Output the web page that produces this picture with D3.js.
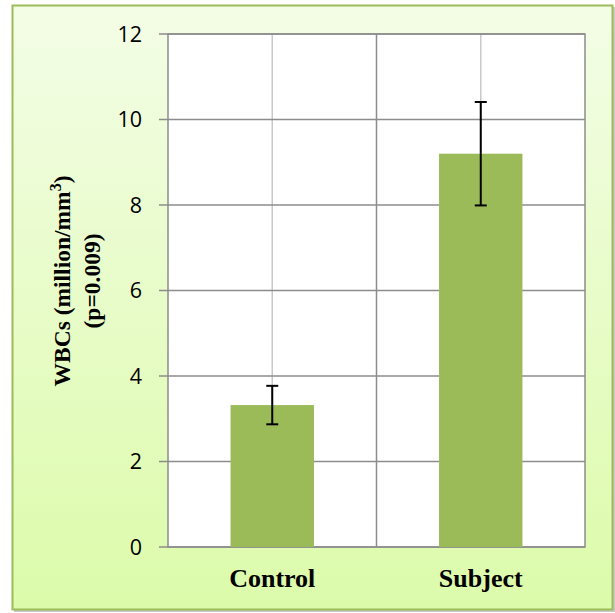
<!DOCTYPE html>
<html>
<head>
<meta charset="utf-8">
<script src="https://cdn.jsdelivr.net/npm/d3@7"></script>
<style>
  body { margin: 0; background: #fff; }
</style>
</head>
<body>
<svg width="615" height="613"></svg>
<script>
var groups = ["Control", "Subject"];
var means = [3.32, 9.2];
var errs = [0.45, 1.21];
var yTicks = [0, 2, 4, 6, 8, 10, 12];

var svg = d3.select("svg");

var defs = svg.append("defs");
var grad = defs.append("linearGradient")
  .attr("id", "bg")
  .attr("x1", 0).attr("y1", 0).attr("x2", 0).attr("y2", 1);
grad.append("stop").attr("offset", "0%").attr("stop-color", "#f3fde6");
grad.append("stop").attr("offset", "100%").attr("stop-color", "#dcfbaa");

// drop shadow line + frame
svg.append("rect")
  .attr("x", 14).attr("y", 7).attr("width", 601).attr("height", 605)
  .attr("fill", "#c8c8c8");
svg.append("rect")
  .attr("x", 12.5).attr("y", 5.5).attr("width", 600).attr("height", 604)
  .attr("fill", "url(#bg)")
  .attr("stroke", "#9bbb59").attr("stroke-width", 2);

var pLeft = 168, pRight = 585, pTop = 34, pBottom = 547;

var x = d3.scaleBand().domain(groups).range([pLeft, pRight]).paddingInner(0).paddingOuter(0);
var y = d3.scaleLinear().domain([0, 12]).range([pBottom, pTop]);

// plot area
svg.append("rect")
  .attr("x", pLeft).attr("y", pTop)
  .attr("width", pRight - pLeft).attr("height", pBottom - pTop)
  .attr("fill", "#fff");

// light vertical gridlines at category centres
svg.append("g").selectAll("line")
  .data(groups)
  .enter()
  .append("line")
  .attr("x1", function (d) { return x(d) + x.bandwidth() / 2; })
  .attr("x2", function (d) { return x(d) + x.bandwidth() / 2; })
  .attr("y1", pTop).attr("y2", pBottom)
  .attr("stroke", "#c8c8c8").attr("stroke-width", 1.5);

// category boundary line
svg.append("line")
  .attr("x1", x("Subject")).attr("x2", x("Subject"))
  .attr("y1", pTop).attr("y2", pBottom)
  .attr("stroke", "#8c8c8c").attr("stroke-width", 1.5);

// horizontal gridlines
svg.append("g").selectAll("line")
  .data(yTicks)
  .enter()
  .append("line")
  .attr("x1", pLeft - 9).attr("x2", pRight)
  .attr("y1", function (d) { return y(d); })
  .attr("y2", function (d) { return y(d); })
  .attr("stroke", "#8c8c8c").attr("stroke-width", 1.5);

// plot border
svg.append("rect")
  .attr("x", pLeft).attr("y", pTop)
  .attr("width", pRight - pLeft).attr("height", pBottom - pTop)
  .attr("fill", "none")
  .attr("stroke", "#8c8c8c").attr("stroke-width", 1.5);

// y tick labels
svg.append("g").selectAll("text")
  .data(yTicks)
  .enter()
  .append("text")
  .attr("x", 142)
  .attr("y", function (d) { return y(d); })
  .attr("dy", "0.36em")
  .attr("text-anchor", "end")
  .attr("font-family", "Open Sans, sans-serif")
  .attr("font-size", 21.5)
  .attr("fill", "#000")
  .text(function (d) { return d; });

// bars
var barW = x.bandwidth() * 0.4;
svg.append("g").selectAll("rect")
  .data(groups)
  .enter()
  .append("rect")
  .attr("x", function (d) { return x(d) + (x.bandwidth() - barW) / 2; })
  .attr("y", function (d, i) { return y(means[i]); })
  .attr("width", barW)
  .attr("height", function (d, i) { return pBottom - y(means[i]); })
  .attr("fill", "#9bbb59");

// error bars
var eb = svg.append("g").attr("stroke", "#000").attr("stroke-width", 2);
groups.forEach(function (d, i) {
  var cx = x(d) + x.bandwidth() / 2;
  var hi = y(means[i] + errs[i]), lo = y(means[i] - errs[i]);
  eb.append("line").attr("x1", cx).attr("x2", cx).attr("y1", hi).attr("y2", lo);
  eb.append("line").attr("x1", cx - 6).attr("x2", cx + 6).attr("y1", hi).attr("y2", hi);
  eb.append("line").attr("x1", cx - 6).attr("x2", cx + 6).attr("y1", lo).attr("y2", lo);
});

// category labels
svg.append("g").selectAll("text")
  .data(groups)
  .enter()
  .append("text")
  .attr("x", function (d) { return x(d) + x.bandwidth() / 2; })
  .attr("y", 587)
  .attr("text-anchor", "middle")
  .attr("font-family", "Liberation Serif, Times New Roman, serif")
  .attr("font-weight", "bold")
  .attr("font-size", 26)
  .text(function (d) { return d; });

// y axis title
var title = svg.append("text")
  .attr("transform", "translate(70,281) rotate(-90)")
  .attr("text-anchor", "middle")
  .attr("font-family", "Liberation Serif, Times New Roman, serif")
  .attr("font-weight", "bold")
  .attr("font-size", 23.5);
var t1 = title.append("tspan").attr("x", 0).attr("y", 0);
t1.append("tspan").text("WBCs (million/mm");
t1.append("tspan").attr("dy", -9).attr("font-size", 16).text("3");
t1.append("tspan").attr("dy", 9).text(")");
title.append("tspan").attr("x", 0).attr("y", 30).text("(p=0.009)");
</script>
</body>
</html>
